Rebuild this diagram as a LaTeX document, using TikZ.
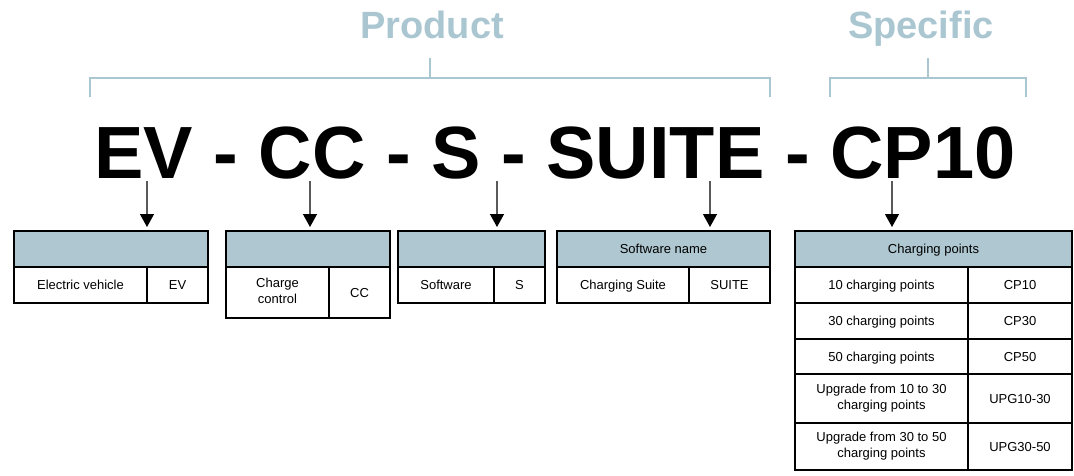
\documentclass[tikz,border=0pt]{standalone}
\usepackage{fontspec}
\setmainfont{Liberation Sans}
\usetikzlibrary{arrows.meta}
\definecolor{tblue}{HTML}{AEC7D0}
\definecolor{lblue}{HTML}{A9C6D1}
\tikzset{
  box/.style={draw,line width=2.5pt,inner sep=0pt,outer sep=0pt,anchor=north west,align=center,font=\fontsize{13}{15.5}\selectfont,execute at end node={\rule[-3pt]{0pt}{15.3pt}}},
  hdr/.style={box,fill=tblue,minimum height=36},
  brace/.style={lblue,line width=1.5pt},
  pick/.style={draw=gray!70!black,line width=1.3pt,shorten >=4pt,-{Triangle[width=14pt,length=13pt,color=black]}}
}
\begin{document}
\begin{tikzpicture}[x=1pt,y=-1pt]
    \useasboundingbox (0,0) rectangle (1074,475);
    % headings and braces
    \node[lblue,anchor=base,font=\bfseries\fontsize{38}{40}\selectfont] (prod) at (432,38) {Product};
    \node[lblue,anchor=base,font=\bfseries\fontsize{38}{40}\selectfont] (spec) at (921,38) {Specific};
    \draw[brace] (90,97)--(90,78)--(770,78)--(770,97);
    \draw[brace] (430,58)--(430,78);
    \draw[brace] (830,97)--(830,78)--(1026,78)--(1026,97);
    \draw[brace] (928,58)--(928,78);
    \node[anchor=base,font=\bfseries\fontsize{74}{80}\selectfont] (code) at (555,178) {EV - CC - S - SUITE - CP10};
    % tables
    \node[hdr,minimum width=194] (hEV) at (14,231) {};
    \node[box,minimum width=133,minimum height=36] (nEV) at (14,267) {Electric vehicle};
    \node[box,minimum width=61,minimum height=36] (vEV) at (147,267) {EV};
    \node[hdr,minimum width=164] (hCC) at (226,231) {};
    \node[box,minimum width=103,minimum height=51] (nCC) at (226,267) {Charge\\control};
    \node[box,minimum width=61,minimum height=51] (vCC) at (329,267) {CC};
    \node[hdr,minimum width=147] (hS) at (398,231) {};
    \node[box,minimum width=96,minimum height=36] (nS) at (398,267) {Software};
    \node[box,minimum width=51,minimum height=36] (vS) at (494,267) {S};
    \node[hdr,minimum width=213] (hSU) at (557,231) {Software name};
    \node[box,minimum width=132,minimum height=36] (nSU) at (557,267) {Charging Suite};
    \node[box,minimum width=81,minimum height=36] (vSU) at (689,267) {SUITE};
    \node[hdr,minimum width=277] (hCP) at (795,231) {Charging points};
    \foreach \y/\h/\n/\c [count=\i] in {267/36/10 charging points/CP10,303/36/30 charging points/CP30,339/35/50 charging points/CP50,374/49/Upgrade from 10 to 30\\charging points/UPG10-30,423/47/Upgrade from 30 to 50\\charging points/UPG30-50}{
        \node[box,minimum width=173,minimum height=\h] (nCP\i) at (795,\y) {\n};
        \node[box,minimum width=104,minimum height=\h] (vCP\i) at (968,\y) {\c};
    }
    % arrows
    \coordinate (aEV) at (147,181);
    \coordinate (aCC) at (310,181);
    \coordinate (aS) at (497,181);
    \coordinate (aSU) at (710,181);
    \coordinate (aCP) at (892,181);
    \draw[pick] (aEV)--(aEV |- hEV.north);
    \draw[pick] (aCC)--(aCC |- hCC.north);
    \draw[pick] (aS)--(aS |- hS.north);
    \draw[pick] (aSU)--(aSU |- hSU.north);
    \draw[pick] (aCP)--(aCP |- hCP.north);
\end{tikzpicture}
\end{document}
